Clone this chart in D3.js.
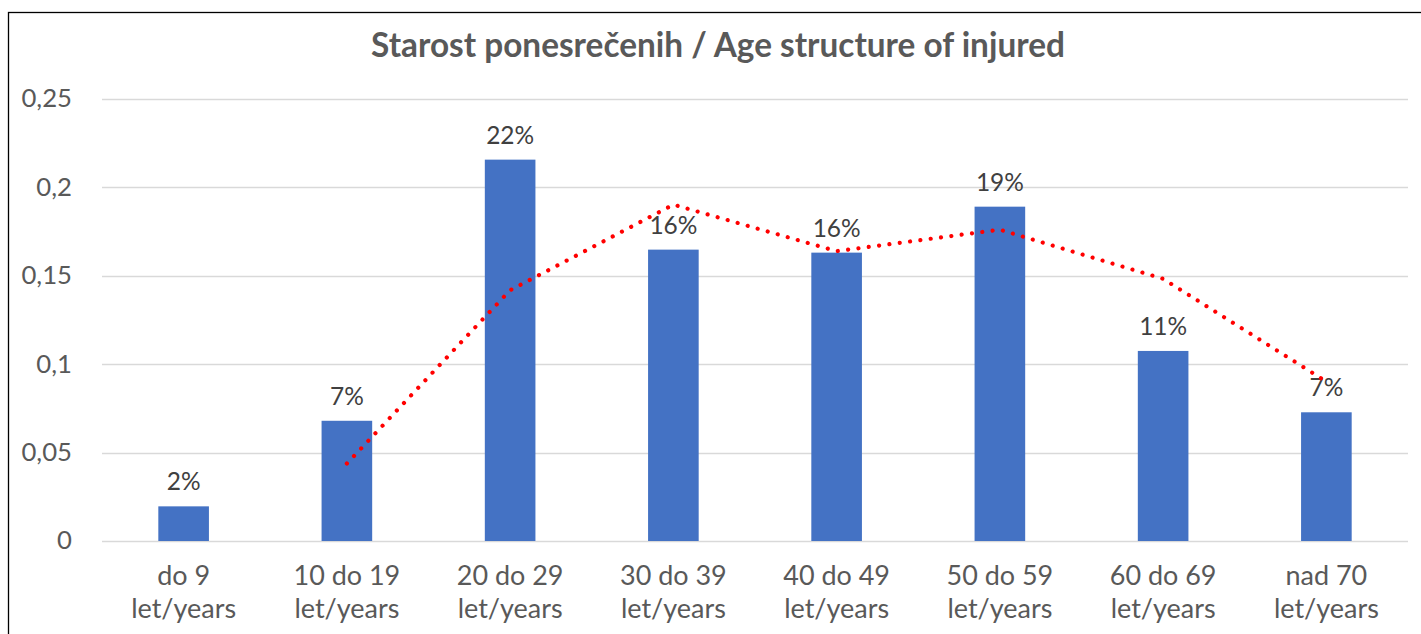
<!DOCTYPE html>
<html>
<head>
<meta charset="utf-8">
<script src="https://cdn.jsdelivr.net/npm/d3@7"></script>
<style>
  html, body { margin: 0; padding: 0; background: #fff; }
  svg { display: block; }
  text { font-family: Lato, "Open Sans", sans-serif; }
</style>
</head>
<body>
<svg id="chart" width="1421" height="634"></svg>
<script>
const categoriesLine1 = ["do 9", "10 do 19", "20 do 29", "30 do 39", "40 do 49", "50 do 59", "60 do 69", "nad 70"];
const categoriesLine2 = ["let/years", "let/years", "let/years", "let/years", "let/years", "let/years", "let/years", "let/years"];
const shares = [0.0196, 0.068, 0.2157, 0.1648, 0.1631, 0.1891, 0.1075, 0.0728];
const dataLabels = ["2%", "7%", "22%", "16%", "16%", "19%", "11%", "7%"];
const yTicks = [0, 0.05, 0.1, 0.15, 0.2, 0.25];
const yTickLabels = ["0", "0,05", "0,1", "0,15", "0,2", "0,25"];
const title = "Starost ponesrečenih / Age structure of injured";

// 2-period moving average trendline (Excel style)
const movingAvg = shares.map((v, i) => i === 0 ? null : (v + shares[i - 1]) / 2);

const svg = d3.select("#chart");
const W = 1421, H = 634;
const plot = { left: 102, right: 1408, top: 99, bottom: 541 };

function fitSize(str, weight, target) {
  const t = svg.append("text").attr("font-size", 100).attr("font-weight", weight).text(str);
  const w = t.node().getComputedTextLength();
  t.remove();
  return 100 * target / w;
}

const tickFont = fitSize("0,25", 400, 50.6);
const catFont = fitSize("let/years", 400, 105);
const labFont = fitSize("22%", 400, 48);
const titleFont = fitSize(title, 700, 694);

// chart border
svg.append("rect").attr("x", 8.5).attr("y", 12.5).attr("width", W + 20).attr("height", H + 20)
  .attr("fill", "#fff").attr("stroke", "#000").attr("stroke-width", 1.3);

const x = d3.scaleBand().domain(d3.range(shares.length)).range([plot.left, plot.right]).paddingInner(0.69).paddingOuter(0.345);
const y = d3.scaleLinear().domain([0, 0.25]).range([plot.bottom, plot.top]);

// gridlines
svg.append("g").selectAll("line").data(yTicks).join("line")
  .attr("x1", plot.left).attr("x2", plot.right)
  .attr("y1", d => Math.round(y(d)) + 0.5).attr("y2", d => Math.round(y(d)) + 0.5)
  .attr("stroke", "#d9d9d9").attr("stroke-width", 1.3);

// y axis labels
svg.append("g").selectAll("text").data(yTicks).join("text")
  .attr("x", 72).attr("y", d => y(d) + tickFont * 0.33)
  .attr("text-anchor", "end").attr("font-size", tickFont).attr("fill", "#595959")
  .text((d, i) => yTickLabels[i]);

// bars
svg.append("g").selectAll("rect").data(shares).join("rect")
  .attr("x", (d, i) => x(i)).attr("width", x.bandwidth())
  .attr("y", d => y(d)).attr("height", d => y(0) - y(d))
  .attr("fill", "#4472c4");

// data labels
svg.append("g").selectAll("text").data(shares).join("text")
  .attr("x", (d, i) => x(i) + x.bandwidth() / 2).attr("y", d => y(d) - 16)
  .attr("text-anchor", "middle").attr("font-size", labFont).attr("fill", "#404040")
  .text((d, i) => dataLabels[i]);

// trendline
const lineData = movingAvg.map((v, i) => ({ i, v })).filter(d => d.v !== null);
svg.append("path").datum(lineData)
  .attr("d", d3.line().x(d => x(d.i) + x.bandwidth() / 2).y(d => y(d.v)))
  .attr("fill", "none").attr("stroke", "#ff0000").attr("stroke-width", 4.2)
  .attr("stroke-linecap", "round").attr("stroke-dasharray", "0.01 10.4");

// category labels
const cat = svg.append("g").selectAll("text").data(categoriesLine1).join("text")
  .attr("text-anchor", "middle").attr("font-size", catFont).attr("fill", "#595959");
cat.append("tspan").attr("x", (d, i) => x(i) + x.bandwidth() / 2).attr("y", 585).text(d => d);
cat.append("tspan").attr("x", (d, i) => x(i) + x.bandwidth() / 2).attr("y", 618).text((d, i) => categoriesLine2[i]);

// title
svg.append("text").attr("x", 718).attr("y", 57).attr("text-anchor", "middle")
  .attr("font-size", titleFont).attr("font-weight", 700).attr("fill", "#595959").text(title);
</script>
</body>
</html>
